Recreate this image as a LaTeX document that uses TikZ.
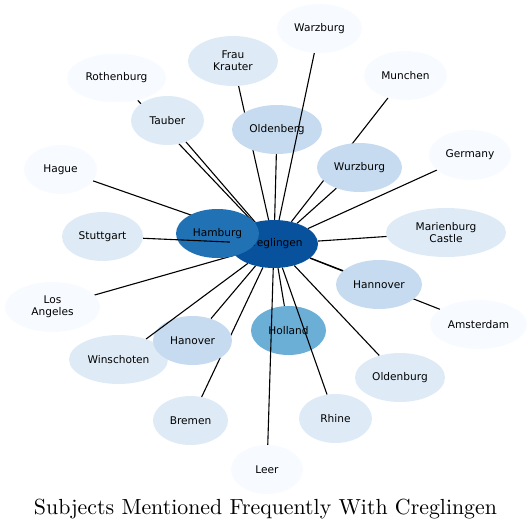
\documentclass[tikz,border=0pt]{standalone}
\usepackage{fontspec}
\newfontfamily\nodefont{DejaVu Sans}
\usetikzlibrary{shapes.geometric}
\pgfdeclarelayer{edges}
\pgfsetlayers{edges,main}
\definecolor{bA}{HTML}{F7FBFF}
\definecolor{bB}{HTML}{DEEBF7}
\definecolor{bC}{HTML}{C6DBEF}
\definecolor{bD}{HTML}{6BAED6}
\definecolor{bE}{HTML}{2171B5}
\definecolor{bF}{HTML}{08519C}
\tikzset{
  city/.style={ellipse, draw=none, inner sep=0pt, text=black, align=center,
    font=\nodefont\fontsize{10.6}{11.7}\selectfont},
  sz/.style 2 args={minimum width=#1pt, minimum height=#2pt},
  edge/.style={draw=black, line width=1.1pt},
  titlestyle/.style={inner sep=0pt, anchor=base, font=\normalfont\fontsize{10}{12}\selectfont}
}
\begin{document}
\begin{tikzpicture}[x=1pt,y=-1pt]
\useasboundingbox (0,0) rectangle (531,530);
% nodes
\node[city, fill=bF, sz={88}{48}] (creg) at (274,244) {Creglingen};
\node[city, fill=bE, sz={83}{49}] (hamb) at (217.5,233.5) {Hamburg};
\node[city, fill=bA, sz={99}{49}] (roth) at (116.5,78) {Rothenburg};
\node[city, fill=bB, sz={73}{49}] (taub) at (167.5,120.5) {Tauber};
\node[city, fill=bB, sz={90}{50}] (frau) at (233,61) {Frau\\Krauter};
\node[city, fill=bA, sz={73}{49}] (hague) at (60.5,169.5) {Hague};
\node[city, fill=bB, sz={81}{49}] (stutt) at (102.5,236.5) {Stuttgart};
\node[city, fill=bC, sz={90}{49}] (oldbg) at (277,129.5) {Oldenberg};
\node[city, fill=bA, sz={85}{49}] (warz) at (319.5,28.5) {Warzburg};
\node[city, fill=bA, sz={83}{49}] (munch) at (405.5,75.5) {Munchen};
\node[city, fill=bC, sz={85}{49}] (wurz) at (359.5,167.5) {Wurzburg};
\node[city, fill=bA, sz={82}{50}] (germ) at (470,155) {Germany};
\node[city, fill=bB, sz={120}{49}] (mari) at (446,232.5) {Marienburg\\Castle};
\node[city, fill=bC, sz={86}{49}] (hannov) at (379,284.5) {Hannover};
\node[city, fill=bA, sz={97}{49}] (amst) at (478.5,324.5) {Amsterdam};
\node[city, fill=bD, sz={75}{49}] (holl) at (288.5,330.5) {Holland};
\node[city, fill=bB, sz={90}{49}] (oldbu) at (400,377.5) {Oldenburg};
\node[city, fill=bB, sz={73}{49}] (rhine) at (335.5,418.5) {Rhine};
\node[city, fill=bA, sz={72}{49}] (leer) at (267,469.5) {Leer};
\node[city, fill=bB, sz={75}{49}] (bremen) at (190.5,420.5) {Bremen};
\node[city, fill=bB, sz={99}{49}] (winsch) at (118.5,359.5) {Winschoten};
\node[city, fill=bC, sz={79}{49}] (hanov) at (192.5,340.5) {Hanover};
\node[city, fill=bA, sz={95}{50}] (la) at (52.5,307) {Los\\Angeles};
% edges beneath the nodes
\begin{pgfonlayer}{edges}
\draw[edge] (roth) -- (creg);
\draw[edge] (taub) -- (creg);
\draw[edge] (frau) -- (creg);
\draw[edge] (oldbg) -- (creg);
\draw[edge] (munch) -- (creg);
\draw[edge] (wurz) -- (creg);
\draw[edge] (germ) -- (creg);
\draw[edge] (mari) -- (creg);
\draw[edge] (hannov) -- (creg);
\draw[edge] (amst) -- (creg);
\draw[edge] (holl) -- (creg);
\draw[edge] (oldbu) -- (creg);
\draw[edge] (bremen) -- (creg);
\draw[edge] (hanov) -- (creg);
\draw[edge] (la) -- (creg);
\draw[edge] (hague) -- (creg);
\end{pgfonlayer}
% edges drawn over nodes
\draw[edge] (warz) -- (creg);
\draw[edge] (stutt) -- (creg);
\draw[edge] (leer) -- (creg);
\draw[edge] (rhine) -- (creg);
\draw[edge] (winsch) -- (creg);
% title
\node[titlestyle] (title) at (265.5,514) {\resizebox{463pt}{!}{Subjects Mentioned Frequently With Creglingen}};
\end{tikzpicture}
\end{document}
